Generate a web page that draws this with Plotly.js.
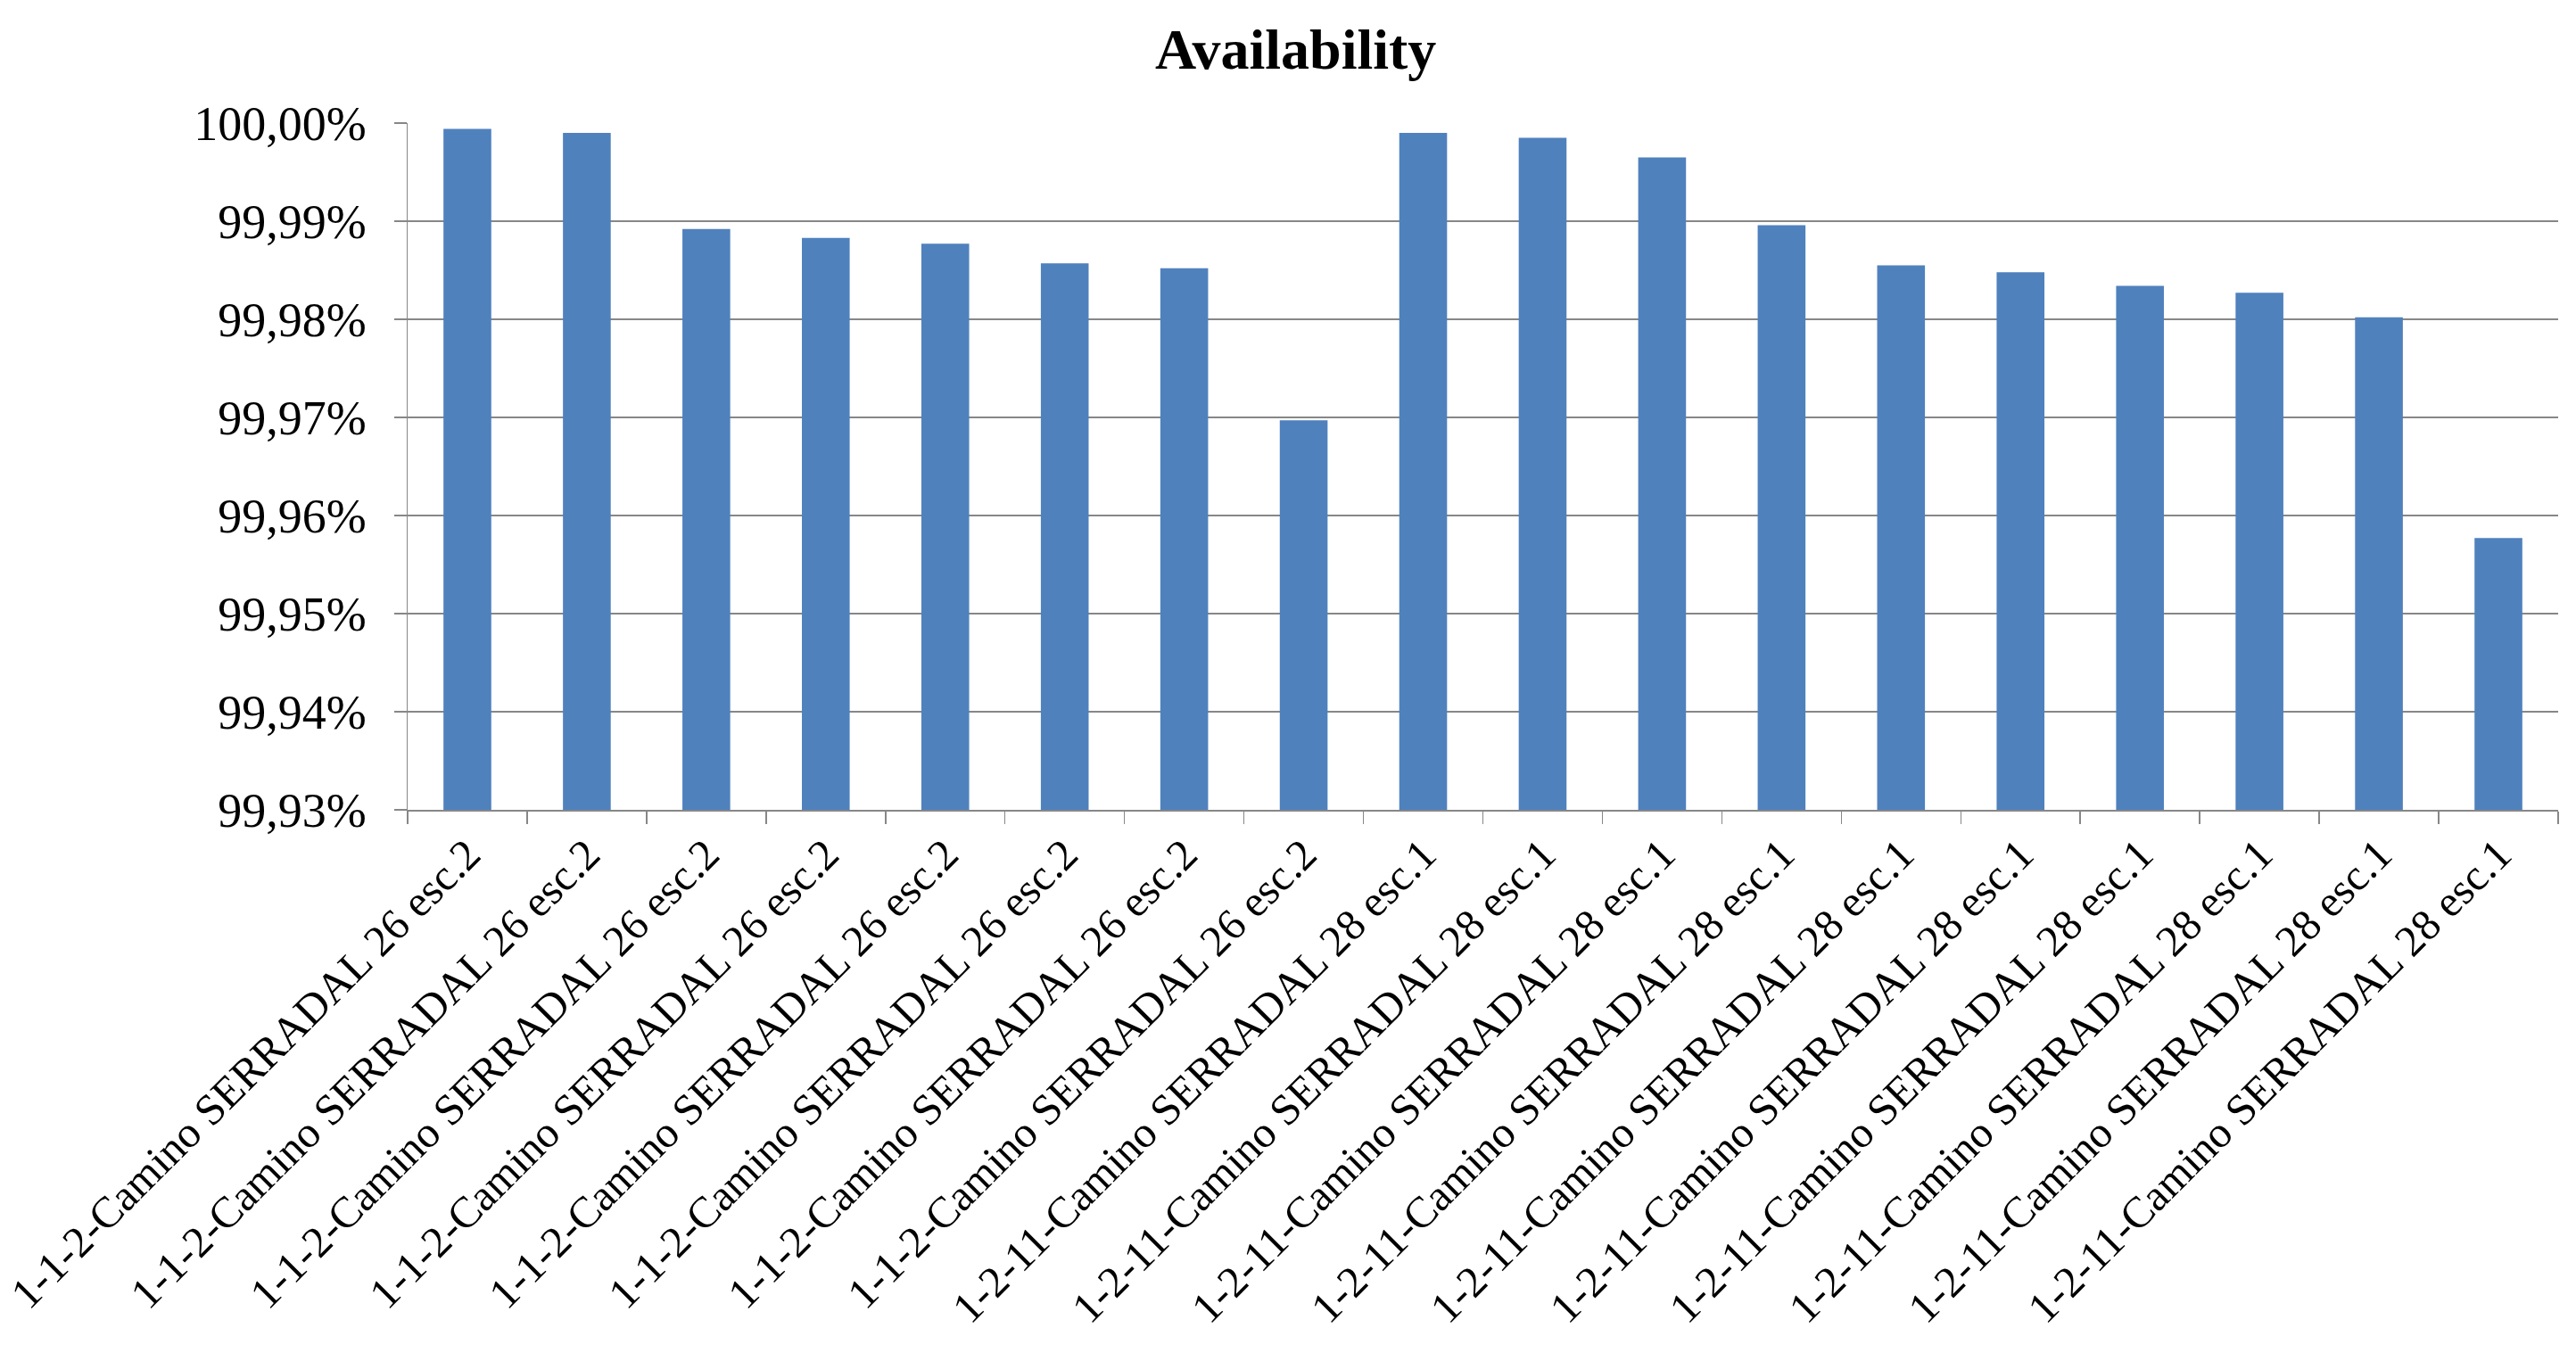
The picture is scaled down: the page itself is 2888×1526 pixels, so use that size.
<!DOCTYPE html>
<html>
<head>
<meta charset="utf-8">
<script src="https://cdn.plot.ly/plotly-3.0.1.min.js"></script>
<style>html,body{margin:0;padding:0;background:#fff}#chart{width:2888px;height:1526px}</style>
</head>
<body>
<div id="chart"></div>
<script>
var categories = [
  "1-1-2-Camino SERRADAL 26 esc.2",
  "1-1-2-Camino SERRADAL 26 esc.2",
  "1-1-2-Camino SERRADAL 26 esc.2",
  "1-1-2-Camino SERRADAL 26 esc.2",
  "1-1-2-Camino SERRADAL 26 esc.2",
  "1-1-2-Camino SERRADAL 26 esc.2",
  "1-1-2-Camino SERRADAL 26 esc.2",
  "1-1-2-Camino SERRADAL 26 esc.2",
  "1-2-11-Camino SERRADAL 28 esc.1",
  "1-2-11-Camino SERRADAL 28 esc.1",
  "1-2-11-Camino SERRADAL 28 esc.1",
  "1-2-11-Camino SERRADAL 28 esc.1",
  "1-2-11-Camino SERRADAL 28 esc.1",
  "1-2-11-Camino SERRADAL 28 esc.1",
  "1-2-11-Camino SERRADAL 28 esc.1",
  "1-2-11-Camino SERRADAL 28 esc.1",
  "1-2-11-Camino SERRADAL 28 esc.1",
  "1-2-11-Camino SERRADAL 28 esc.1"
];
var availability = [
  99.9994, 99.9990, 99.9892, 99.9883, 99.9877, 99.9857, 99.9852, 99.9697,
  99.9990, 99.9985, 99.9965, 99.9896, 99.9855, 99.9848, 99.9834, 99.9827,
  99.9802, 99.9577
];
var yTicks = [99.93, 99.94, 99.95, 99.96, 99.97, 99.98, 99.99, 100.00];
var yTickText = ["99,93%", "99,94%", "99,95%", "99,96%", "99,97%", "99,98%", "99,99%", "100,00%"];

var idx = categories.map(function(_, i){ return i; });
var bounds = [];
for (var i = 0; i <= categories.length; i++) bounds.push(i - 0.5);

var gridColor = '#878787';
var font = 'Liberation Serif, Times New Roman, serif';

var trace = {
  type: 'bar',
  x: idx,
  y: availability,
  marker: {color: '#4F81BD'},
  hoverinfo: 'none'
};

var layout = {
  width: 2888,
  height: 1526,
  paper_bgcolor: '#ffffff',
  plot_bgcolor: '#ffffff',
  showlegend: false,
  bargap: 0.6,
  margin: {l: 457, r: 20, t: 138, b: 618, pad: 0},
  title: {
    text: '<b>Availability</b>',
    font: {family: font, size: 64, color: '#000000'},
    x: 0.503, xref: 'container', xanchor: 'center',
    y: 1 - 55/1526, yref: 'container', yanchor: 'middle'
  },
  xaxis: {
    type: 'linear',
    range: [-0.5, categories.length - 0.5],
    tickmode: 'array',
    tickvals: idx,
    ticktext: categories,
    tickangle: -45,
    ticks: '',
    ticklabeloverflow: 'allow',
    showgrid: false,
    zeroline: false,
    showline: true,
    linecolor: gridColor,
    linewidth: 1.5,
    tickfont: {family: font, size: 49, color: '#000000'},
    minor: {
      tickmode: 'array',
      tickvals: bounds,
      ticks: 'outside',
      ticklen: 14,
      tickcolor: gridColor,
      tickwidth: 1.5,
      showgrid: false
    },
    fixedrange: true
  },
  yaxis: {
    range: [99.93, 100.0],
    tickmode: 'array',
    tickvals: yTicks,
    ticktext: yTickText,
    ticks: 'outside',
    ticklen: 14,
    tickcolor: gridColor,
    tickwidth: 1.5,
    ticklabelstandoff: 20,
    showgrid: true,
    gridcolor: gridColor,
    gridwidth: 1.5,
    zeroline: false,
    showline: true,
    linecolor: gridColor,
    linewidth: 1.5,
    tickfont: {family: font, size: 54, color: '#000000'},
    fixedrange: true
  }
};

Plotly.newPlot('chart', [trace], layout, {displayModeBar: false, staticPlot: true});
</script>
</body>
</html>
